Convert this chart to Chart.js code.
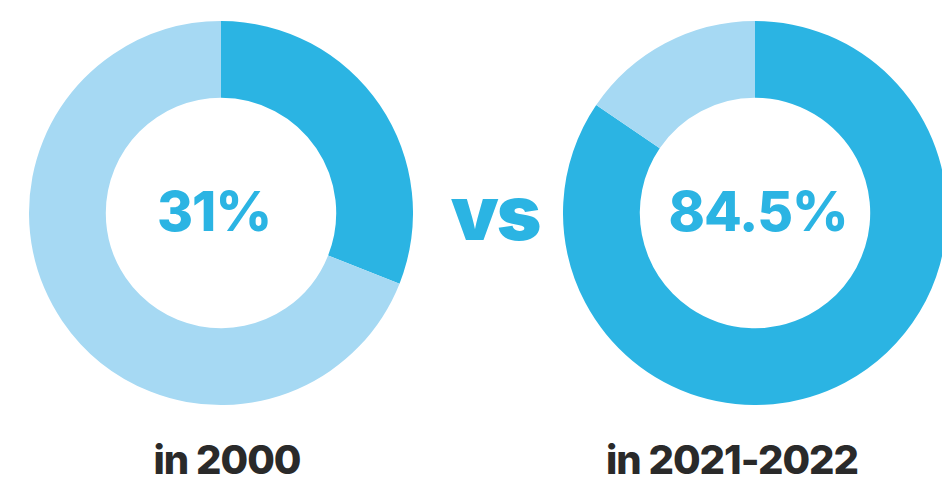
<!DOCTYPE html>
<html>
<head>
<meta charset="utf-8">
<script src="https://cdn.jsdelivr.net/npm/chart.js@4/dist/chart.umd.min.js"></script>
<style>
  html, body { margin: 0; padding: 0; background: #ffffff; }
  body { width: 942px; height: 491px; position: relative; overflow: hidden; font-family: Inter, "Noto Sans", sans-serif; }
  .donut { position: absolute; width: 384px; height: 384px; }
  .txt { position: absolute; white-space: nowrap; transform: translate(-50%, -50%); line-height: 1; }
  .pct { color: #2bb4e3; font-weight: 800; font-size: 55px; letter-spacing: -1px; }
  .vs { color: #2bb4e3; font-weight: 900; font-size: 76px; letter-spacing: -2px; }
  .year { color: #2a2a2a; font-weight: 800; font-size: 40px; letter-spacing: -1px; }
</style>
</head>
<body>
<div class="donut" style="left:29px; top:21px;"><canvas id="c2000" width="384" height="384"></canvas></div>
<div class="donut" style="left:563px; top:21px;"><canvas id="c2022" width="384" height="384"></canvas></div>

<div class="txt pct" id="p2000" style="left:214px; top:211px;"></div>
<div class="txt vs" style="left:495px; top:212px;">vs</div>
<div class="txt pct" id="p2022" style="left:758px; top:211px;"></div>
<div class="txt year" id="y2000" style="left:227px; top:460px;"></div>
<div class="txt year" id="y2022" style="left:732px; top:460px;"></div>

<script>
// Share of the total, in percent, for each period
const periods = ['in 2000', 'in 2021-2022'];
const shares = [31, 84.5];
const segmentLabels = ['Share', 'Rest'];

const darkBlue = '#2bb4e3';
const lightBlue = '#a6d9f3';

function drawDonut(id, share) {
  new Chart(document.getElementById(id), {
    type: 'doughnut',
    data: {
      labels: segmentLabels,
      datasets: [{
        data: [share, 100 - share],
        backgroundColor: [darkBlue, lightBlue],
        borderWidth: 0,
        hoverOffset: 0
      }]
    },
    options: {
      responsive: false,
      animation: false,
      cutout: '60%',
      rotation: 0,
      layout: { padding: 0 },
      plugins: { legend: { display: false }, tooltip: { enabled: false } },
      events: []
    }
  });
}

drawDonut('c2000', shares[0]);
drawDonut('c2022', shares[1]);

document.getElementById('p2000').textContent = shares[0] + '%';
document.getElementById('p2022').textContent = shares[1] + '%';
document.getElementById('y2000').textContent = periods[0];
document.getElementById('y2022').textContent = periods[1];
</script>
</body>
</html>
